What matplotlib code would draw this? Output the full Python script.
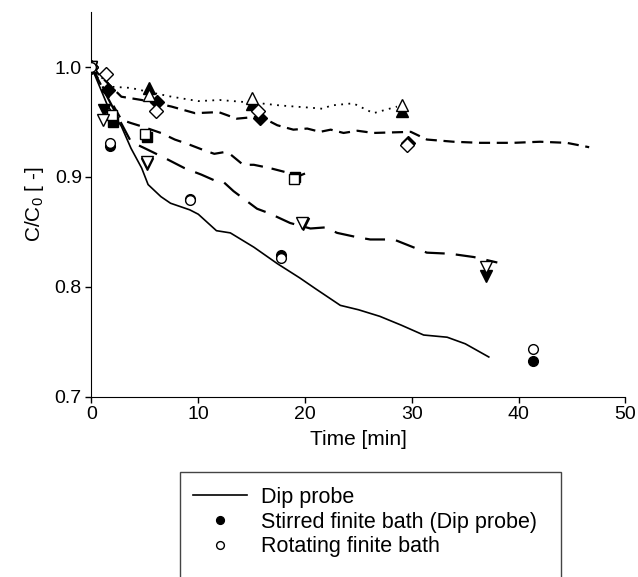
import numpy as np
import matplotlib
matplotlib.use("Agg")
import matplotlib.pyplot as plt
from matplotlib.patches import Rectangle

plt.rcParams['font.family'] = ['Liberation Sans', 'DejaVu Sans']

# model curves
dip_t = [0, 1.5, 2.8, 3.7, 4.7, 5.3, 6.5, 7.4, 9.2, 10, 11.7, 13, 15.2, 17.4,
         19.5, 21, 23.3, 25, 27, 29, 31.1, 33.3, 35, 37.2]
dip_c = [1.0, 0.965, 0.946, 0.926, 0.908, 0.893, 0.882, 0.876, 0.870, 0.866,
         0.851, 0.849, 0.836, 0.821, 0.808, 0.798, 0.783, 0.779, 0.773, 0.765,
         0.756, 0.754, 0.748, 0.736]

dot_t = [0, 1, 2, 3.7, 5.5, 7.5, 10, 12, 15.8, 17.7, 20.5, 21.7, 22.4, 24.5, 26.4, 28.6]
dot_c = [1.0, 0.99, 0.982, 0.981, 0.977, 0.973, 0.969, 0.970, 0.967, 0.965,
         0.963, 0.962, 0.965, 0.967, 0.958, 0.964]

dia_t = [0, 2.8, 4.7, 7.5, 9.7, 11.9, 13.6, 15.8, 17.4, 18.9, 20.2, 21.4, 22.4,
         23.6, 24.9, 26.4, 29.9, 31.4, 33.9, 36.4, 39.5, 42.0, 44.5, 46.6]
dia_c = [1.0, 0.973, 0.970, 0.964, 0.958, 0.959, 0.953, 0.955, 0.947, 0.943,
         0.944, 0.941, 0.943, 0.940, 0.942, 0.940, 0.941, 0.934, 0.932, 0.931,
         0.931, 0.932, 0.931, 0.927]

sq_t = [0, 2.8, 3.7, 4.7, 6.5, 7.8, 9.0, 10.6, 11.5, 12.7, 14.2, 15.2, 16.7,
        18.3, 19.2, 20.5]
sq_c = [1.0, 0.952, 0.949, 0.946, 0.940, 0.934, 0.930, 0.924, 0.921, 0.923,
        0.911, 0.911, 0.908, 0.904, 0.900, 0.905]

td_t = [0, 3.7, 5.0, 6.9, 8.7, 10.3, 11.7, 12.4, 13.3, 15.5, 16.6, 18.6, 20.5,
        21.9, 23.0, 24.9, 26.1, 28.3, 31.4, 33.6, 35.8, 38.0]
td_c = [1.0, 0.932, 0.926, 0.917, 0.908, 0.902, 0.896, 0.895, 0.887, 0.871,
        0.867, 0.858, 0.853, 0.854, 0.849, 0.845, 0.843, 0.843, 0.831, 0.830,
        0.827, 0.822]

# measured points
stir_t = [0, 1.7, 9.2, 17.7, 41.3]
stir_c = [1.0, 0.928, 0.880, 0.829, 0.732]
rot_t = [0, 1.7, 9.2, 17.7, 41.3]
rot_c = [1.0, 0.931, 0.879, 0.826, 0.743]

tu_fill_t = [0, 5.4, 15.0, 29.1]
tu_fill_c = [1.0, 0.981, 0.966, 0.960]
tu_open_t = [0, 5.4, 15.0, 29.1]
tu_open_c = [1.0, 0.975, 0.972, 0.965]

dm_fill_t = [0, 1.5, 6.1, 15.8, 29.6]
dm_fill_c = [1.0, 0.979, 0.968, 0.954, 0.931]
dm_open_t = [0, 1.4, 6.0, 15.6, 29.5]
dm_open_c = [1.0, 0.994, 0.960, 0.960, 0.929]

sqm_fill_t = [0, 2.0, 5.2, 19.1]
sqm_fill_c = [1.0, 0.950, 0.936, 0.900]
sqm_open_t = [0, 1.9, 5.0, 19.0]
sqm_open_c = [1.0, 0.956, 0.939, 0.898]

tdm_fill_t = [0, 1.2, 5.2, 19.8, 36.9]
tdm_fill_c = [1.0, 0.961, 0.912, 0.857, 0.810]
tdm_open_t = [0, 1.1, 5.2, 19.7, 36.9]
tdm_open_c = [1.0, 0.952, 0.914, 0.858, 0.818]

fig = plt.figure(figsize=(6.38, 5.77), dpi=100)
ax = fig.add_axes([0.1434, 0.3128, 0.8370, 0.6669])

ax.plot(dip_t, dip_c, color='k', lw=1.2, label='Dip probe')
ax.plot(dot_t, dot_c, color='k', lw=1.3, ls=(0, (1, 3)))
ax.plot(dia_t, dia_c, color='k', lw=1.6, ls=(0, (5, 3)))
ax.plot(sq_t, sq_c, color='k', lw=1.6, ls=(0, (6, 4)))
ax.plot(td_t, td_c, color='k', lw=1.6, ls=(0, (9, 5)))

ms = 7
def pts(t, c, m, filled, size=ms, label=None):
    ax.plot(t, c, ls='none', marker=m, ms=size, mec='k', mew=1.0,
            mfc='k' if filled else 'white', label=label, zorder=3 if filled else 4)

pts(tu_fill_t, tu_fill_c, '^', True, 8)
pts(tu_open_t, tu_open_c, '^', False, 8)
pts(dm_fill_t, dm_fill_c, 'D', True, 7)
pts(dm_open_t, dm_open_c, 'D', False, 7)
pts(sqm_fill_t, sqm_fill_c, 's', True, 7)
pts(sqm_open_t, sqm_open_c, 's', False, 7)
pts(tdm_fill_t, tdm_fill_c, 'v', True, 8)
pts(tdm_open_t, tdm_open_c, 'v', False, 8)
pts(rot_t, rot_c, 'o', False, 7, label='Rotating finite bath')
pts(stir_t, stir_c, 'o', True, 7, label='Stirred finite bath (Dip probe)')

ax.set_xlim(0, 50)
ax.set_ylim(0.7, 1.0504)
ax.set_xticks([0, 10, 20, 30, 40, 50])
ax.set_yticks([0.7, 0.8, 0.9, 1.0])
ax.set_yticklabels(['0.7', '0.8', '0.9', '1.0'])
ax.spines['top'].set_visible(False)
ax.spines['right'].set_visible(False)
ax.tick_params(direction='out', length=4, width=1, labelsize=14, pad=3)
ax.set_xlabel('Time [min]', fontsize=15, labelpad=5)
ax.set_ylabel(r'C/C$_\mathregular{0}$ [ -]', fontsize=15, labelpad=6)

h, l = ax.get_legend_handles_labels()
order = [l.index('Dip probe'), l.index('Stirred finite bath (Dip probe)'),
         l.index('Rotating finite bath')]
leg = fig.legend([h[i] for i in order], [l[i] for i in order],
                 loc='upper left', bbox_to_anchor=(193 / 638, 1 - 487 / 577),
                 frameon=False, fontsize=15.5, borderpad=0, borderaxespad=0,
                 handlelength=2.5, handletextpad=0.65, labelspacing=0.17,
                 markerscale=0.8)
fig.patches.append(Rectangle((180 / 638, -0.05), (561 - 180) / 638, 0.05 + 105 / 577,
                             transform=fig.transFigure, fill=False,
                             edgecolor='#444444', lw=1.0))

plt.savefig('out.png', dpi=100)
